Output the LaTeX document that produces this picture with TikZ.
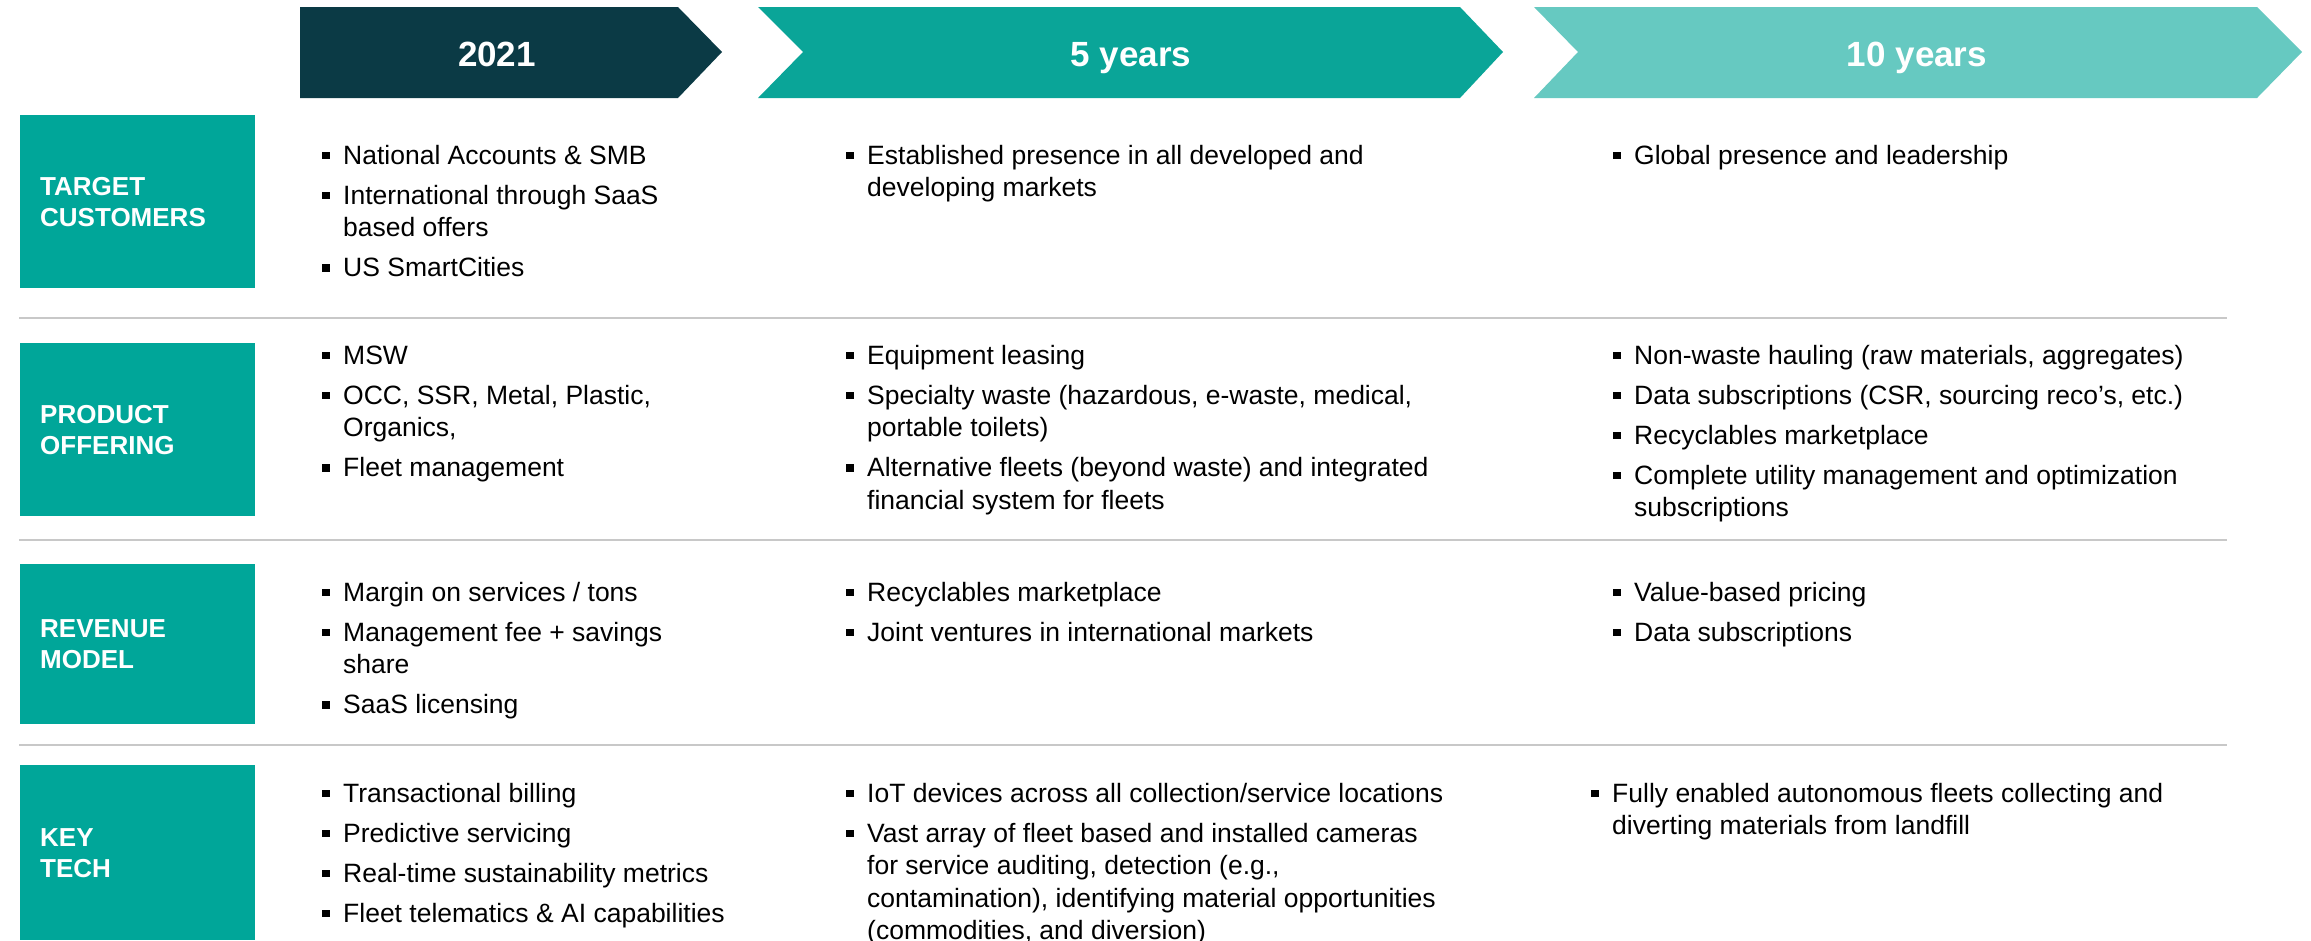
\documentclass[tikz,border=0pt]{standalone}
\usepackage{fontspec}
\setmainfont{Liberation Sans}
\definecolor{headdark}{HTML}{0B3A45}
\definecolor{headmid}{HTML}{0AA598}
\definecolor{headlight}{HTML}{66C9C1}
\definecolor{boxteal}{HTML}{00A699}
\definecolor{rulegray}{HTML}{C8C8C8}
\newcommand{\bul}{\strut\makebox[21pt][l]{\rule[5pt]{7.5pt}{7.5pt}}}
\newcommand{\contline}{\hspace*{21pt}}
\tikzset{
  headtext/.style={text=white, font=\bfseries\fontsize{35}{40}\selectfont, anchor=base, inner sep=0},
  rowlabel/.style={fill=boxteal, text=white, font=\bfseries\fontsize{26}{31}\selectfont,
    minimum width=235pt, text width=195pt, inner xsep=20pt, align=left, anchor=north west},
  celltext/.style={anchor=north west, inner sep=0, align=left, yshift=22.75pt,
    font=\fontsize{26.5}{32.5}\selectfont}
}
\begin{document}
\begin{tikzpicture}[x=1pt,y=-1pt]
  \useasboundingbox[fill=white] (0,0) rectangle (2311,940);
  % timeline header
  \fill[headdark] (300,7) -- (678,7) -- (722,52) -- (678,98) -- (300,98) -- cycle;
  \fill[headmid] (758,7) -- (1460,7) -- (1503,52) -- (1460,98) -- (758,98) -- (803,52) -- cycle;
  \fill[headlight] (1534,7) -- (2257,7) -- (2302,52) -- (2257,98) -- (1534,98) -- (1578,52) -- cycle;
  \node[headtext] (h2021) at (497,66) {2021};
  \node[headtext] (h5y) at (1131,66) {5 years};
  \node[headtext] (h10y) at (1917,66) {10 years};
  % row separators
  \begin{scope}[rulegray, line width=2.5pt]
    \draw (19,318) -- (2227,318);
    \draw (19,540) -- (2227,540);
    \draw (19,745) -- (2227,745);
  \end{scope}
  % row labels
  \node[rowlabel, minimum height=173pt] (tc) at (20,115) {TARGET\\CUSTOMERS};
  \node[rowlabel, minimum height=173pt] (po) at (20,343) {PRODUCT\\OFFERING};
  \node[rowlabel, minimum height=160pt] (rm) at (20,564) {REVENUE\\MODEL};
  \node[rowlabel, minimum height=175pt] (kt) at (20,765) {KEY\\TECH};
  % target customers
  \node[celltext] (tc1) at (322,164) {\bul National Accounts \& SMB\\[7.5pt]
    \bul International through SaaS\\ \contline based offers\\[7.5pt]
    \bul US SmartCities};
  \node[celltext] (tc2) at (846,164) {\bul Established presence in all developed and\\
    \contline developing markets};
  \node[celltext] (tc3) at (1613,164) {\bul Global presence and leadership};
  % product offering
  \node[celltext] (po1) at (322,364) {\bul MSW\\[7.5pt]
    \bul OCC, SSR, Metal, Plastic,\\ \contline Organics,\\[7.5pt]
    \bul Fleet management};
  \node[celltext] (po2) at (846,364) {\bul Equipment leasing\\[7.5pt]
    \bul Specialty waste (hazardous, e-waste, medical,\\ \contline portable toilets)\\[7.5pt]
    \bul Alternative fleets (beyond waste) and integrated\\ \contline financial system for fleets};
  \node[celltext] (po3) at (1613,364) {\bul Non-waste hauling (raw materials, aggregates)\\[7.5pt]
    \bul Data subscriptions (CSR, sourcing reco’s, etc.)\\[7.5pt]
    \bul Recyclables marketplace\\[7.5pt]
    \bul Complete utility management and optimization\\ \contline subscriptions};
  % revenue model
  \node[celltext] (rm1) at (322,601) {\bul Margin on services / tons\\[7.5pt]
    \bul Management fee + savings\\ \contline share\\[7.5pt]
    \bul SaaS licensing};
  \node[celltext] (rm2) at (846,601) {\bul Recyclables marketplace\\[7.5pt]
    \bul Joint ventures in international markets};
  \node[celltext] (rm3) at (1613,601) {\bul Value-based pricing\\[7.5pt]
    \bul Data subscriptions};
  % key tech
  \node[celltext] (kt1) at (322,802) {\bul Transactional billing\\[7.5pt]
    \bul Predictive servicing\\[7.5pt]
    \bul Real-time sustainability metrics\\[7.5pt]
    \bul Fleet telematics \& AI capabilities};
  \node[celltext] (kt2) at (846,802) {\bul IoT devices across all collection/service locations\\[7.5pt]
    \bul Vast array of fleet based and installed cameras\\
    \contline for service auditing, detection (e.g.,\\
    \contline contamination), identifying material opportunities\\
    \contline (commodities, and diversion)};
  \node[celltext] (kt3) at (1591,802) {\bul Fully enabled autonomous fleets collecting and\\
    \contline diverting materials from landfill};
\end{tikzpicture}
\end{document}
